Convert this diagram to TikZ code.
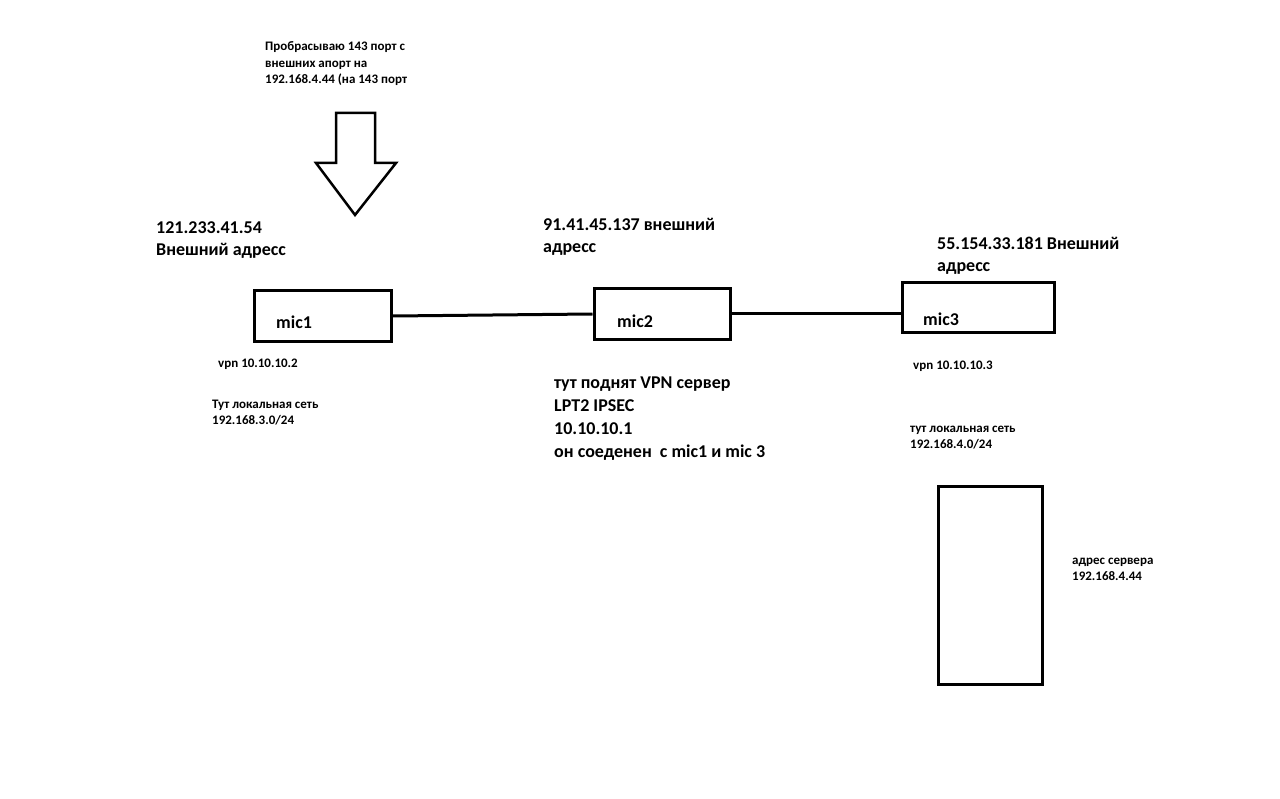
\documentclass[tikz,border=0pt]{standalone}
\usepackage{fontspec}
\setmainfont{Carlito}
\tikzset{mic/.style={draw,line width=3pt,minimum width=#1,inner sep=0pt},
 note/.style={anchor=south west,inner sep=0pt,text depth=0pt,align=left,
  font=\bfseries\fontsize{13}{16.7}\selectfont},
 bignote/.style={note,font=\bfseries\fontsize{18}{22.5}\selectfont},
 link/.style={line width=3pt}}

\begin{document}
\begin{tikzpicture}[x=1pt,y=-1pt]
\useasboundingbox[fill=white] (0,0) rectangle (1280,799);
% routers and server
\node[mic=137pt,minimum height=51pt] (mic1) at (323,316) {};
\node[mic=136pt,minimum height=51pt] (mic2) at (662,314) {};
\node[mic=152pt,minimum height=50pt] (mic3) at (978.5,308) {};
\node[mic=104pt,minimum height=198pt] (srv) at (990.5,585.5) {};
\node[bignote] (mic1lbl) at (276,329) {mic1};
\node[bignote] (mic2lbl) at (617,328) {mic2};
\node[bignote] (mic3lbl) at (923,326) {mic3};
% links
\draw[link] (mic1.east) -- (mic2.west);
\draw[link] (mic2.east) -- (mic2.east -| mic3.west);
% forwarding arrow
\draw[line width=2.5pt,line join=miter] (336,113) -- (375,113) -- (375,163) -- (396,163)
 -- (355,215) -- (316,163) -- (336,163) -- cycle;
\node[note] (fwd) at (265,84) {Пробрасываю 143 порт с\\внешних апорт на\\192.168.4.44 (на 143 порт};
% addresses
\node[bignote] (ext1) at (156,256) {121.233.41.54\\Внешний адресс};
\node[bignote] (ext2) at (543,253) {91.41.45.137 внешний\\адресс};
\node[bignote] (ext3) at (937,272) {55.154.33.181 Внешний\\адресс};
\node[note] (vpn1) at (218,368) {vpn 10.10.10.2};
\node[note] (lan1) at (212,425) {Тут локальная сеть\\192.168.3.0/24};
\node[bignote,font=\bfseries\fontsize{18}{23}\selectfont] (srvinfo) at (554,458)
 {тут поднят VPN сервер\\LPT2 IPSEC\\10.10.10.1\\он соеденен~~с mic1 и mic 3};
\node[note] (vpn3) at (913,370) {vpn 10.10.10.3};
\node[note] (lan3) at (910,449) {тут локальная сеть\\192.168.4.0/24};
\node[note] (srvaddr) at (1072,581) {адрес сервера\\192.168.4.44};
\end{tikzpicture}
\end{document}
